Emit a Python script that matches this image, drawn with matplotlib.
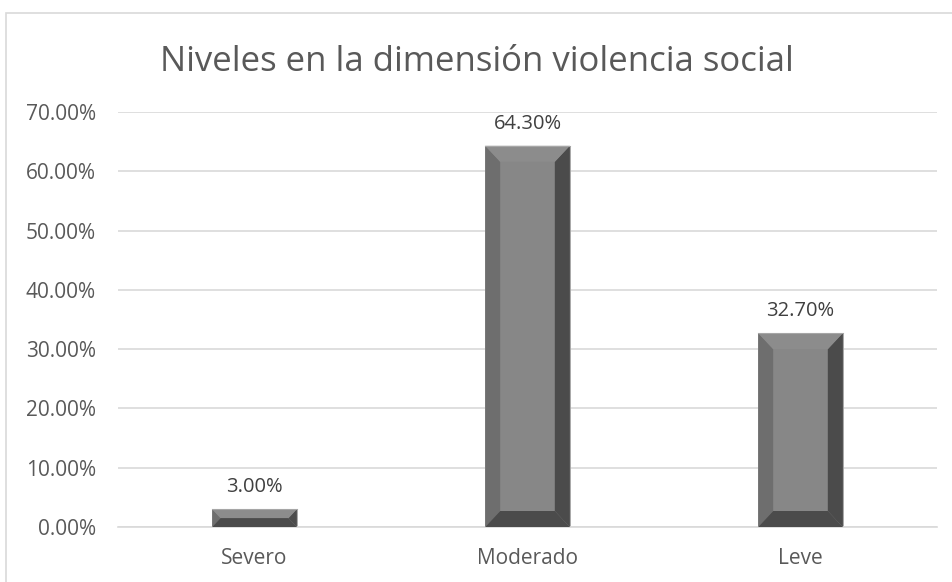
import matplotlib.pyplot as plt
from matplotlib.patches import Polygon, Rectangle
from matplotlib.ticker import FuncFormatter

categorias = ['Severo', 'Moderado', 'Leve']
porcentajes = [0.030, 0.643, 0.327]
etiquetas = ['3.00%', '64.30%', '32.70%']

plt.rcParams['font.family'] = ['Open Sans', 'DejaVu Sans']

fig = plt.figure(figsize=(9.53, 5.82), dpi=100)
ax = fig.add_axes([118 / 953, 55 / 582, 819 / 953, 415 / 582])

# marco del grafico
fig.patches.append(Rectangle((6 / 953, -0.05), 1.2, (582 - 13) / 582 + 0.05,
                             transform=fig.transFigure, fill=False,
                             edgecolor='#d9d9d9', linewidth=1.2))

ancho = 0.31
x = range(len(categorias))
bars = ax.bar(x, porcentajes, width=ancho, color='#878787', zorder=2,
              edgecolor='#a6a6a6', linewidth=0.6)

ax.set_xlim(-0.5, 2.5)
ax.set_ylim(0, 0.70)
ax.set_yticks([i / 10 for i in range(8)])
ax.yaxis.set_major_formatter(FuncFormatter(lambda v, p: f'{v * 100:.2f}%'))
ax.set_xticks(list(x))
ax.set_xticklabels(categorias)
ax.tick_params(axis='both', length=0, labelsize=15, colors='#595959')
ax.tick_params(axis='y', pad=16)
ax.tick_params(axis='x', pad=15)
ax.grid(axis='y', color='#d9d9d9', linewidth=1.2, zorder=0)
ax.set_axisbelow(True)
for s in ['top', 'right', 'left']:
    ax.spines[s].set_visible(False)
ax.spines['bottom'].set_color('#d9d9d9')
ax.spines['bottom'].set_linewidth(1.2)

# bisel: ~15 px en x e y, convertido a unidades de datos
fig.canvas.draw()
px_x = ax.transData.transform((1, 0))[0] - ax.transData.transform((0, 0))[0]
px_y = ax.transData.transform((0, 1))[1] - ax.transData.transform((0, 0))[1]
bx = 15 / px_x
by = 16 / px_y

for bar in bars:
    x0 = bar.get_x()
    x1 = x0 + bar.get_width()
    h = bar.get_height()
    b = min(by, h / 2)
    bxx = bx * (b / by)
    # izquierda
    ax.add_patch(Polygon([(x0, 0), (x0 + bxx, b), (x0 + bxx, h - b), (x0, h)],
                         closed=True, color='#6e6e6e', zorder=3, lw=0))
    # derecha
    ax.add_patch(Polygon([(x1, 0), (x1 - bxx, b), (x1 - bxx, h - b), (x1, h)],
                         closed=True, color='#4b4b4b', zorder=3, lw=0))
    # arriba
    ax.add_patch(Polygon([(x0, h), (x1, h), (x1 - bxx, h - b), (x0 + bxx, h - b)],
                         closed=True, color='#8c8c8c', zorder=3, lw=0))
    # abajo
    ax.add_patch(Polygon([(x0, 0), (x1, 0), (x1 - bxx, b), (x0 + bxx, b)],
                         closed=True, color='#4b4b4b', zorder=3, lw=0))
    ax.plot([x0, x1], [h, h], color='#a6a6a6', lw=0.8, zorder=4)

for bar, txt in zip(bars, etiquetas):
    ax.text(bar.get_x() + bar.get_width() / 2, bar.get_height() + 0.02, txt,
            ha='center', va='bottom', fontsize=14.5, color='#404040')

fig.text(0.5, 1 - 62 / 582, 'Niveles en la dimensión violencia social',
         ha='center', va='center', fontsize=25, color='#595959')

fig.savefig('out.png', dpi=100)
